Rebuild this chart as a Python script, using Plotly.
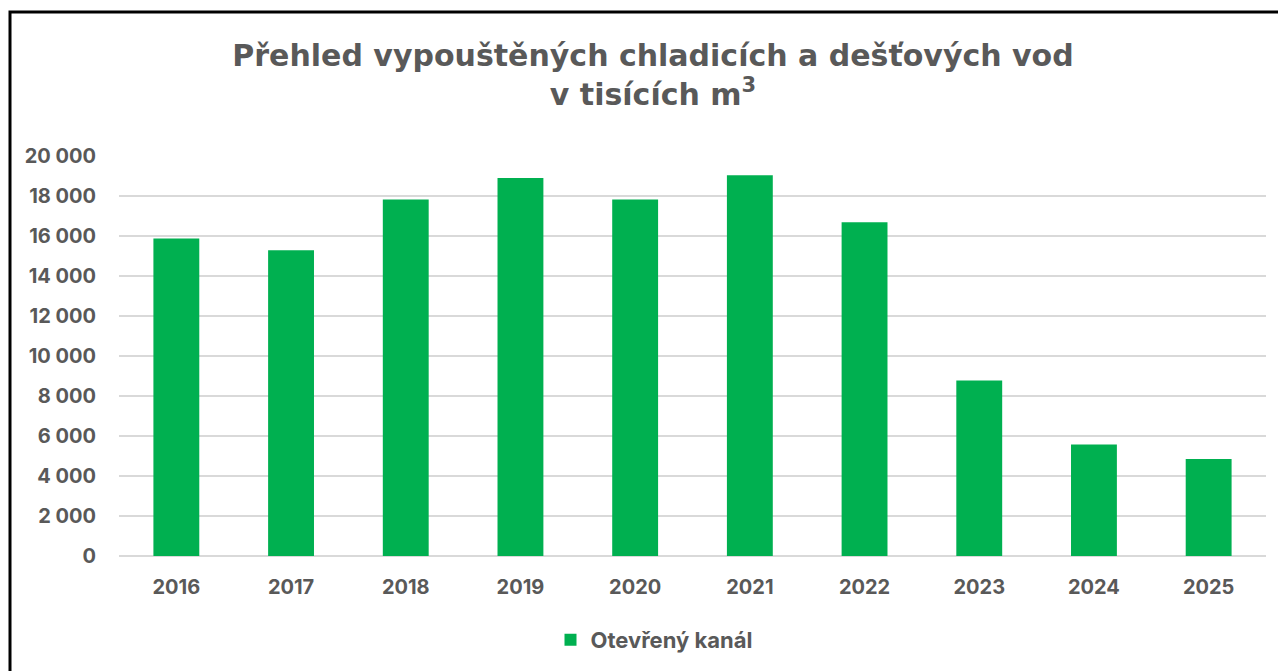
import plotly.graph_objects as go

years = ["2016", "2017", "2018", "2019", "2020", "2021", "2022", "2023", "2024", "2025"]
values = [15870, 15290, 17830, 18900, 17830, 19040, 16690, 8780, 5580, 4850]
series_name = "Otevřený kanál"
tick_vals = [0, 2000, 4000, 6000, 8000, 10000, 12000, 14000, 16000, 18000, 20000]
tick_text = ["0", "2 000", "4 000", "6 000", "8 000", "10 000", "12 000", "14 000", "16 000", "18 000", "20 000"]

OFF = 8  # default body margin of the html page
W, H = 1286 - OFF, 671 - OFF
L, T = 119 - OFF, 156 - OFF
ph = 400
pw = (1266 - OFF) - L
R = W - L - pw
B = H - T - ph

grey = "#595959"
font_family = "Inter, Roboto, Arial, sans-serif"
title_family = "DejaVu Sans, Arial, sans-serif"

fig = go.Figure()
fig.add_trace(go.Bar(x=years, y=values, name=series_name, marker_color="#00B050",
                     marker_line_width=0, showlegend=True))

fig.update_layout(
    width=W, height=H,
    margin=dict(l=L, r=R, t=T, b=B, autoexpand=False),
    paper_bgcolor="white", plot_bgcolor="white",
    bargap=0.6,
    font=dict(family=font_family, color=grey),
    title=dict(text="<b>Přehled vypouštěných chladicích a dešťových vod<br>v tisících m<sup>3</sup></b>",
               x=(653 - OFF) / W, xanchor="center", y=1 - 58 / H, yanchor="top",
               font=dict(size=30, color=grey, family=title_family)),
    showlegend=True,
    legend=dict(orientation="h", x=(654 - OFF - L) / pw, xanchor="center",
                y=-(640 - OFF - (T + ph)) / ph, yanchor="middle",
                font=dict(size=22, color=grey, family=font_family, weight="bold"),
                itemsizing="constant"),
    xaxis=dict(showgrid=False, showline=False, zeroline=False, ticks="",
               tickfont=dict(size=20, color=grey, family=font_family, weight="bold"),
               ticklabelstandoff=17),
    yaxis=dict(range=[0, 20000], tickvals=tick_vals, ticktext=tick_text,
               showgrid=True, gridcolor="#D9D9D9", gridwidth=1.5,
               zeroline=True, zerolinecolor="#D9D9D9", zerolinewidth=1.5,
               showline=False, ticks="",
               tickfont=dict(size=20, color=grey, family=font_family, weight="bold"),
               ticklabelstandoff=22),
)

# chart frame (extends beyond visible area on right and bottom)
fig.add_shape(type="rect", xref="paper", yref="paper",
              x0=(10 - OFF - L) / pw, x1=(W + 30 - L) / pw,
              y0=-(H + 30 - (T + ph)) / ph, y1=((T + ph) - (12 - OFF)) / ph,
              line=dict(color="black", width=3), fillcolor="rgba(0,0,0,0)", layer="above")

fig.write_html("out.html")
